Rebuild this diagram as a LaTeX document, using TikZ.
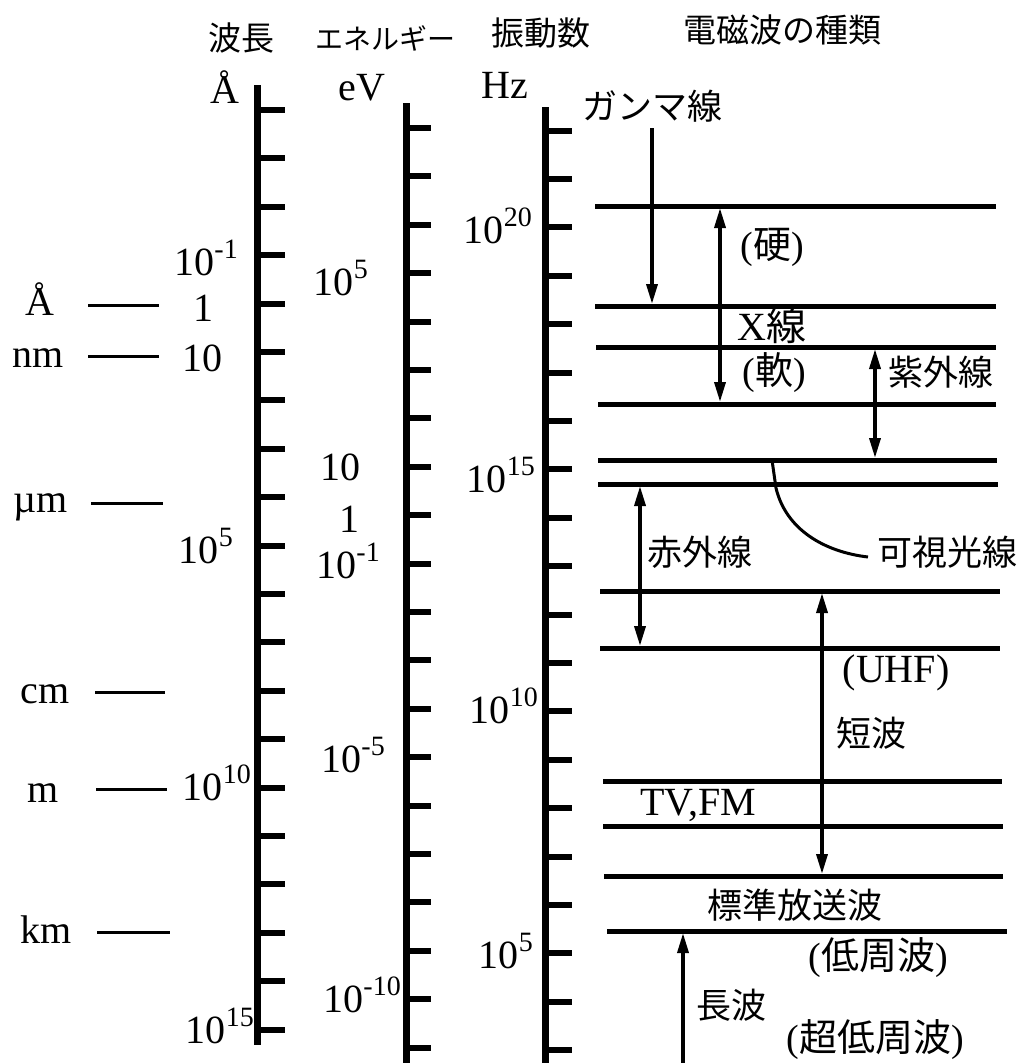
\documentclass[tikz,border=0pt]{standalone}
\usepackage{fontspec}
\setmainfont{Liberation Serif}
\newfontfamily\jpfont{Noto Sans CJK JP}
\usetikzlibrary{arrows.meta, positioning}
\newcommand{\tenpow}[1]{10\raisebox{0.42em}{\fontsize{28}{30}\selectfont #1}}
\tikzset{
  axisline/.style={line width=7pt},
  tickline/.style={line width=6pt},
  band/.style={line width=5pt},
  unitdash/.style={line width=3pt},
  arr/.style={-{Triangle[length=20pt,width=11pt]}, line width=3.5pt, shorten >=2pt},
  darr/.style={{Triangle[length=20pt,width=11pt]}-{Triangle[length=20pt,width=11pt]},
    line width=3.5pt, shorten >=2pt, shorten <=2pt},
  visline/.style={line width=3pt},
  num/.style={inner sep=0pt, font=\fontsize{40}{46}\selectfont},
  lat/.style={inner sep=0pt, font=\fontsize{40}{46}\selectfont},
  jp/.style={inner sep=0pt, font=\jpfont\fontsize{35}{40}\selectfont},
  jphead/.style={inner sep=0pt, font=\jpfont\fontsize{33}{38}\selectfont}
}
\begin{document}
\begin{tikzpicture}[x=1pt, y=-1pt]
  \useasboundingbox (0,0) rectangle (1021,1063);

  % headings
  \node [jphead] (hwave) at (241,38) {波長};
  \node [jphead, font=\jpfont\fontsize{28}{34}\selectfont] (henergy) at (385,38) {エネルギー};
  \node [jphead] (hfreq) at (541,33) {振動数};
  \node [jphead] (hkind) at (782,30) {電磁波の種類};

  % units
  \node [num, anchor=base] (uang) at (225,103) {Å};
  \node [num, anchor=base] (uev) at (362,100) {eV};
  \node [num, anchor=base] (uhz) at (505,98) {Hz};

  % wavelength axis
  \draw [axisline] (257,85) -- (257,1045);
  \foreach \k in {0,...,19}
    \draw [tickline] (257,{110+48.4*\k}) -- (285,{110+48.4*\k});
  \node [num, anchor=base east] (w1) at (238,275) {\tenpow{-1}};
  \node [num, anchor=base] (w2) at (203,321) {1};
  \node [num, anchor=base] (w3) at (202,371) {10};
  \node [num, anchor=base east] (w4) at (233,563) {\tenpow{5}};
  \node [num, anchor=base east] (w5) at (251,800) {\tenpow{10}};
  \node [num, anchor=base east] (w6) at (254,1043) {\tenpow{15}};

  % length units on the left
  \node [num, anchor=base] (lang) at (40,315) {Å};
  \node [num, anchor=base] (lnm) at (38,367) {nm};
  \node [num, anchor=base] (lum) at (41,512) {µm};
  \node [num, anchor=base] (lcm) at (45,703) {cm};
  \node [num, anchor=base] (lm) at (43,802) {m};
  \node [num, anchor=base] (lkm) at (46,943) {km};
  \coordinate (dang1) at (88,305);  \coordinate (dang2) at (159,305);
  \coordinate (dnm1) at (88,356);   \coordinate (dnm2) at (159,356);
  \coordinate (dum1) at (91,503);   \coordinate (dum2) at (163,503);
  \coordinate (dcm1) at (95,692);   \coordinate (dcm2) at (165,692);
  \coordinate (dm1) at (96,789);    \coordinate (dm2) at (167,789);
  \coordinate (dkm1) at (97,932);   \coordinate (dkm2) at (170,932);
  \draw [unitdash] (dang1) -- (dang2);
  \draw [unitdash] (dnm1) -- (dnm2);
  \draw [unitdash] (dum1) -- (dum2);
  \draw [unitdash] (dcm1) -- (dcm2);
  \draw [unitdash] (dm1) -- (dm2);
  \draw [unitdash] (dkm1) -- (dkm2);

  % energy axis
  \draw [axisline] (406,103) -- (406,1063);
  \foreach \k in {0,...,19}
    \draw [tickline] (406,{128+48.4*\k}) -- (431,{128+48.4*\k});
  \node [num, anchor=base east] (e1) at (368,295) {\tenpow{5}};
  \node [num, anchor=base] (e2) at (340,480) {10};
  \node [num, anchor=base] (e3) at (349,532) {1};
  \node [num, anchor=base east] (e4) at (380,578) {\tenpow{-1}};
  \node [num, anchor=base east] (e5) at (385,772) {\tenpow{-5}};
  \node [num, anchor=base east] (e6) at (401,1012) {\tenpow{-10}};

  % frequency axis
  \draw [axisline] (545,107) -- (545,1063);
  \foreach \k in {0,...,19}
    \draw [tickline] (545,{130.5+48.4*\k}) -- (572,{130.5+48.4*\k});
  \node [num, anchor=base east] (f1) at (532,243) {\tenpow{20}};
  \node [num, anchor=base east] (f2) at (535,492) {\tenpow{15}};
  \node [num, anchor=base east] (f3) at (538,723) {\tenpow{10}};
  \node [num, anchor=base east] (f4) at (533,968) {\tenpow{5}};

  % band limits
  \coordinate (b1l) at (595,206);  \coordinate (b1r) at (996,206);
  \coordinate (b2l) at (595,306);  \coordinate (b2r) at (996,306);
  \coordinate (b3l) at (596,347);  \coordinate (b3r) at (996,347);
  \coordinate (b4l) at (598,404);  \coordinate (b4r) at (996,404);
  \coordinate (b5l) at (598,460);  \coordinate (b5r) at (997,460);
  \coordinate (b6l) at (598,484);  \coordinate (b6r) at (998,484);
  \coordinate (b7l) at (600,591);  \coordinate (b7r) at (1000,591);
  \coordinate (b8l) at (600,648);  \coordinate (b8r) at (1000,648);
  \coordinate (b9l) at (603,781);  \coordinate (b9r) at (1002,781);
  \coordinate (b10l) at (603,826); \coordinate (b10r) at (1003,826);
  \coordinate (b11l) at (604,876); \coordinate (b11r) at (1003,876);
  \coordinate (b12l) at (607,931); \coordinate (b12r) at (1007,931);
  \foreach \b in {1,...,12}
    \draw [band] (b\b l) -- (b\b r);

  % kinds of waves
  \node [jp] (gamma) at (652,106) {ガンマ線};
  \coordinate (gtop) at (652,128);
  \coordinate (gbot) at (652,306);
  \draw [arr] (gtop) -- (gbot);

  \coordinate (xtop) at (720,206);
  \coordinate (xbot) at (720,404);
  \draw [darr] (xtop) -- (xbot);
  \node [jp] (hard) at (772,247) {\rmfamily\fontsize{38}{44}\selectfont(\jpfont 硬\rmfamily)};
  \node [jp] (xray) at (772,325) {\rmfamily\fontsize{40}{46}\selectfont X\jpfont 線};
  \node [jp] (soft) at (774,373) {\rmfamily\fontsize{38}{44}\selectfont(\jpfont 軟\rmfamily)};

  \coordinate (uvtop) at (875,347);
  \coordinate (uvbot) at (875,460);
  \draw [darr] (uvtop) -- (uvbot);
  \node [jp] (uv) at (941,372) {紫外線};

  \coordinate (visstart) at (772,460);
  \coordinate (visend) at (868,557);
  \draw [visline] (visstart) -- (776,488) .. controls (786,530) and (825,552) .. (visend);
  \node [jp] (vis) at (947,552) {可視光線};

  \coordinate (irtop) at (640,484);
  \coordinate (irbot) at (640,648);
  \draw [darr] (irtop) -- (irbot);
  \node [jp] (ir) at (700,552) {赤外線};

  \coordinate (swtop) at (822,591);
  \coordinate (swbot) at (822,876);
  \draw [darr] (swtop) -- (swbot);
  \node [lat] (uhf) at (896,673) {(UHF)};
  \node [jp] (sw) at (871,733) {短波};
  \node [lat] (tvfm) at (698,805) {TV,FM};
  \node [jp] (am) at (795,905) {標準放送波};
  \node [jp] (lf) at (878,958) {\rmfamily\fontsize{38}{44}\selectfont(\jpfont 低周波\rmfamily)};

  \coordinate (lwbot) at (683,1063);
  \coordinate (lwtop) at (683,931);
  \draw [arr] (lwbot) -- (lwtop);
  \node [jp] (lw) at (731,1005) {長波};
  \node [jp] (vlf) at (875,1040) {\rmfamily\fontsize{38}{44}\selectfont(\jpfont 超低周波\rmfamily)};
\end{tikzpicture}
\end{document}
